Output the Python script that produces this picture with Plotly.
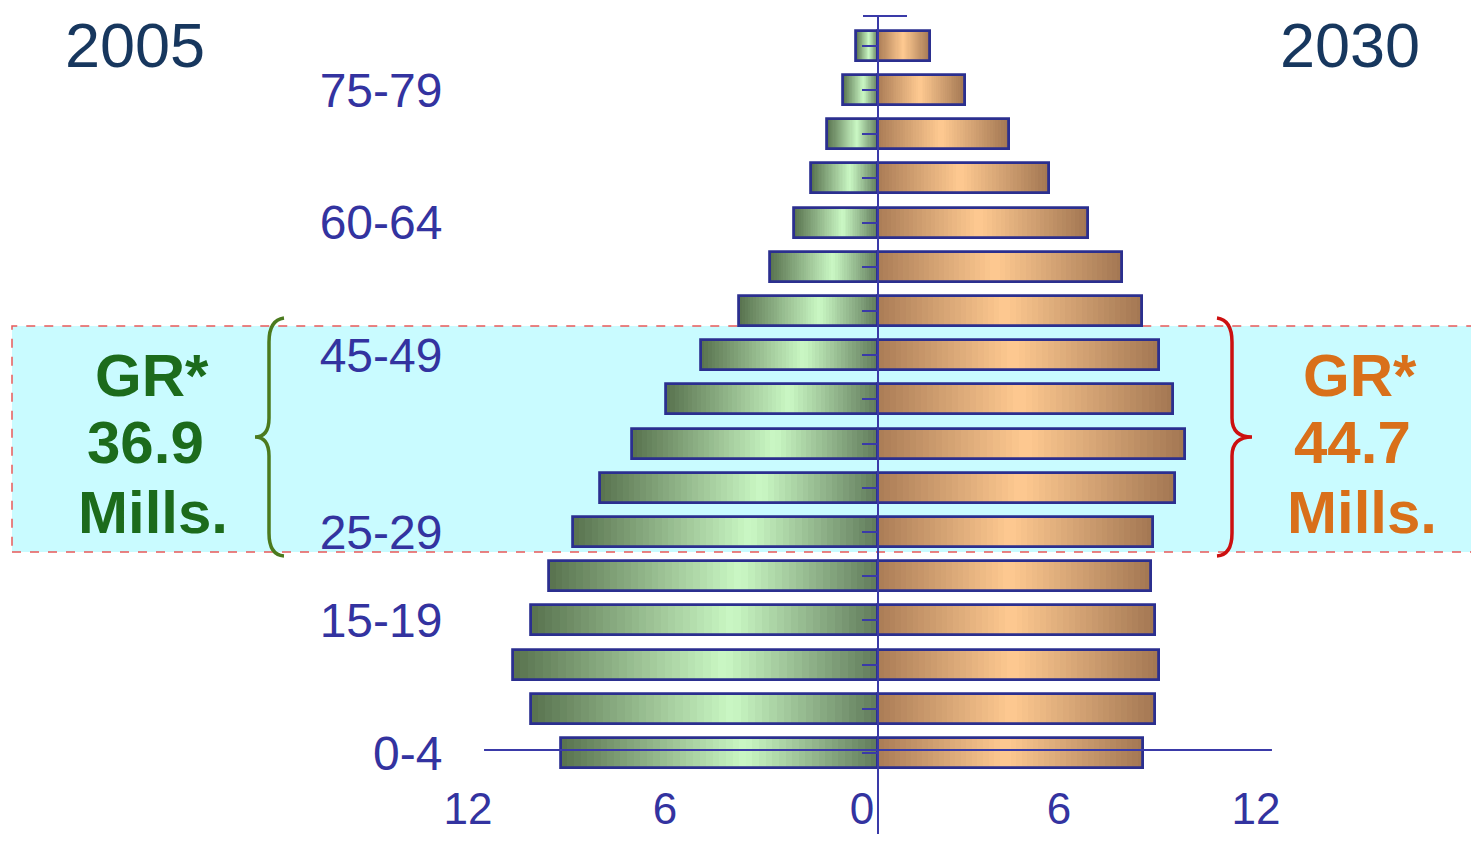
import plotly.graph_objects as go

# age groups, bottom to top
ages = ["0-4", "5-9", "10-14", "15-19", "20-24", "25-29", "30-34", "35-39", "40-44",
        "45-49", "50-54", "55-59", "60-64", "65-69", "70-74", "75-79", "80+"]
# population in millions
pop_2005 = [9.66, 10.58, 11.13, 10.58, 10.03, 9.30, 8.48, 7.50, 6.46,
            5.40, 4.24, 3.29, 2.56, 2.04, 1.55, 1.07, 0.67]
pop_2030 = [8.08, 8.45, 8.57, 8.45, 8.32, 8.38, 9.05, 9.36, 8.99,
            8.57, 8.05, 7.44, 6.40, 5.21, 3.99, 2.65, 1.59]
shown_ages = ["0-4", "15-19", "25-29", "45-49", "60-64", "75-79"]
x_ticks = [-12, -6, 0, 6, 12]
x_labels = ["12", "6", "0", "6", "12"]

# page offset (body margin) and figure size
OX, OY = 8, 8
W, H = 1463, 826
X0, XS = 878 - OX, 32.83      # pixel of zero, pixels per million
Y0, YS = 753 - OY, 44.2       # pixel of first row, pixels per row

def px(x):
    return (x - OX) / W

def py(y):
    return 1 - (y - OY) / H

def mix(stops, t):
    for (t1, c1), (t2, c2) in zip(stops, stops[1:]):
        if t1 <= t <= t2:
            f = (t - t1) / (t2 - t1)
            c = [round(a + (b - a) * f) for a, b in zip(c1, c2)]
            return f"rgb({c[0]},{c[1]},{c[2]})"
    return f"rgb{stops[-1][1]}"

# gradient from outer end (0) to the zero line (1)
green = [(0, (88, 114, 78)), (0.58, (202, 248, 196)), (1, (96, 122, 90))]
# gradient from the zero line (0) to outer end (1)
orange = [(0, (170, 124, 86)), (0.48, (255, 202, 145)), (1, (162, 118, 82))]

fig = go.Figure()
N = 48
BW = 0.68
# gradient fill: each piece runs from its start to the bar end, the next one covers the rest
for k in range(N):
    t = (k + 0.5) / N
    fig.add_trace(go.Bar(
        y=ages, x=[-v * (N - k) / N for v in pop_2005], base=[-v * k / N for v in pop_2005],
        orientation="h", width=BW, hoverinfo="skip", showlegend=False,
        marker=dict(color=mix(green, 1 - t), line=dict(width=0)),
    ))
    fig.add_trace(go.Bar(
        y=ages, x=[v * (N - k) / N for v in pop_2030], base=[v * k / N for v in pop_2030],
        orientation="h", width=BW, hoverinfo="skip", showlegend=False,
        marker=dict(color=mix(orange, t), line=dict(width=0)),
    ))

outline = "#2b2f8f"
fig.add_trace(go.Bar(y=ages, x=[-v for v in pop_2005], orientation="h", width=BW,
                     yaxis="y2", name="2005", showlegend=False,
                     marker=dict(color="rgba(0,0,0,0)", line=dict(width=2.8, color=outline))))
fig.add_trace(go.Bar(y=ages, x=pop_2030, orientation="h", width=BW,
                     yaxis="y2", name="2030", showlegend=False,
                     marker=dict(color="rgba(0,0,0,0)", line=dict(width=2.8, color=outline))))

blue = "#3333a0"
xr = [(0 - X0) / XS, (W - X0) / XS]
yr = [(Y0 - H) / YS, Y0 / YS]

shapes = [
    # highlighted 25-49 band
    dict(type="rect", xref="paper", yref="paper", x0=px(12), x1=1.01, y0=py(552), y1=py(326),
         fillcolor="#c9fbff", line=dict(color="#e85a5a", width=1.5, dash="dash"), layer="below"),
    # zero line
    dict(type="line", xref="x", yref="paper", x0=0, x1=0, y0=0, y1=py(15),
         line=dict(color="#3a3aa8", width=2)),
    dict(type="line", xref="x", yref="paper", x0=(863 - 878) / XS, x1=(907 - 878) / XS,
         y0=py(16), y1=py(16), line=dict(color="#3a3aa8", width=2)),
    # horizontal axis line
    dict(type="line", xref="x", yref="paper", x0=-12, x1=12, y0=py(750), y1=py(750),
         line=dict(color="#3a3aa8", width=2)),
]

def brace(pts):
    p = ""
    for cmd, coords in pts:
        p += cmd + " " + " ".join(f"{px(a):.5f},{py(b):.5f}" for a, b in coords) + " "
    return p.strip()

left_brace = brace([("M", [(284, 318)]), ("Q", [(269, 320), (269, 342)]), ("L", [(269, 418)]),
                    ("Q", [(269, 437), (255, 437)]), ("Q", [(269, 437), (269, 456)]),
                    ("L", [(269, 533)]), ("Q", [(269, 555), (284, 556)])])
right_brace = brace([("M", [(1217, 318)]), ("Q", [(1232, 320), (1232, 342)]), ("L", [(1232, 418)]),
                     ("Q", [(1232, 437), (1252, 437)]), ("Q", [(1232, 437), (1232, 456)]),
                     ("L", [(1232, 533)]), ("Q", [(1232, 555), (1217, 556)])])
shapes.append(dict(type="path", xref="paper", yref="paper", path=left_brace,
                   line=dict(color="#4b7a1e", width=3.5)))
shapes.append(dict(type="path", xref="paper", yref="paper", path=right_brace,
                   line=dict(color="#cc1010", width=3.5)))

font = "Liberation Sans, Arial, sans-serif"
annotations = [
    dict(text="2005", x=px(135), y=py(45), font=dict(size=63, color="#17375e", family=font)),
    dict(text="2030", x=px(1350), y=py(45), font=dict(size=63, color="#17375e", family=font)),
]
for txt, x, y in [("GR*", 152, 375), ("36.9", 145, 443), ("Mills.", 153, 512)]:
    annotations.append(dict(text=f"<b>{txt}</b>", x=px(x), y=py(y),
                            font=dict(size=60, color="#1c6b1c", family=font)))
for txt, x, y in [("GR*", 1360, 375), ("44.7", 1352, 443), ("Mills.", 1362, 512)]:
    annotations.append(dict(text=f"<b>{txt}</b>", x=px(x), y=py(y),
                            font=dict(size=60, color="#d9701a", family=font)))
for a in annotations:
    a.update(xref="paper", yref="paper", showarrow=False, xanchor="center", yanchor="middle")

fig.update_layout(
    width=W, height=H,
    margin=dict(l=0, r=0, t=0, b=0, pad=0, autoexpand=False),
    paper_bgcolor="white", plot_bgcolor="rgba(0,0,0,0)",
    barmode="overlay", bargap=0,
    showlegend=False,
    shapes=shapes, annotations=annotations,
    xaxis=dict(range=xr, anchor="free", position=py(768), showgrid=False, zeroline=False,
               showline=False, tickmode="array", tickvals=x_ticks, ticktext=x_labels,
               ticks="outside", ticklen=2, tickcolor="rgba(0,0,0,0)", ticklabelshift=-16,
               tickfont=dict(size=44, color=blue, family=font), fixedrange=True,
               automargin=False),
    yaxis=dict(type="category", categoryorder="array", categoryarray=ages, range=yr,
               anchor="free", position=px(454), showgrid=False, zeroline=False, showline=False,
               tickmode="array", tickvals=shown_ages, ticktext=shown_ages,
               ticks="outside", ticklen=2, tickcolor="rgba(0,0,0,0)",
               tickfont=dict(size=48, color=blue, family=font), fixedrange=True,
               automargin=False),
    yaxis2=dict(type="category", categoryorder="array", categoryarray=ages, range=yr,
                overlaying="y", anchor="free", position=px(878), side="left",
                showgrid=False, zeroline=False, showline=False, showticklabels=False,
                ticks="outside", ticklen=16, tickwidth=2, tickcolor="#3a3aa8", fixedrange=True,
                automargin=False),
)

fig.write_html("out.html")
